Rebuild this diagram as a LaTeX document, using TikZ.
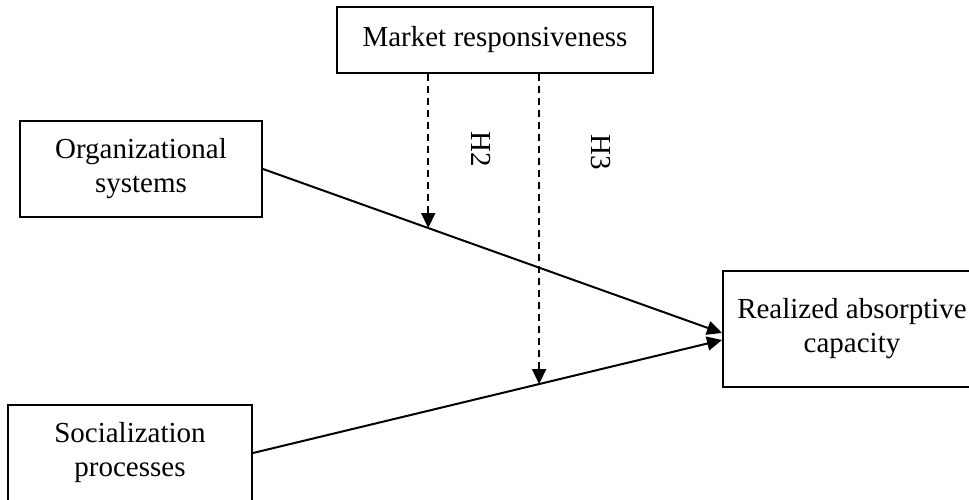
\documentclass[tikz,border=0pt]{standalone}
\usepackage{fontspec}
\setmainfont{Liberation Serif}
\usetikzlibrary{arrows.meta}

\begin{document}
\begin{tikzpicture}[x=1pt,y=-1pt,
        factor/.style={draw,line width=2pt,align=center,inner sep=0pt,
            font=\fontsize{29}{34}\selectfont},
        effect/.style={line width=2pt,-{Triangle[length=15pt,width=14pt]}},
        moderate/.style={effect,line width=1.8pt,dash pattern=on 7pt off 5pt},
        hyp/.style={rotate=-90,inner sep=0pt,font=\fontsize{29}{34}\selectfont}]
        \useasboundingbox (0,0) rectangle (969,500);
        \clip (0,0) rectangle (969,500);

        % 1. moderator
        \node[factor,minimum width=316pt,minimum height=66pt] (mkt) at (495,40) {Market responsiveness};

        % 2. antecedents
        \node[factor,minimum width=242pt,minimum height=96pt] (org) at (141,169) {Organizational\\systems};
        \node[factor,minimum width=244pt,minimum height=96pt] (soc) at (130,453) {Socialization\\processes};

        % 3. outcome
        \node[factor,minimum width=258pt,minimum height=116pt] (rac) at (852,329) {Realized absorptive\\capacity};

        % 4. direct effects
        \draw[effect] (org.east) -- coordinate[pos=0.36] (h2) ([yshift=-4pt]rac.west);
        \draw[effect] (soc.east) -- coordinate[pos=0.61] (h3) ([yshift=-11pt]rac.west);

        % 5. moderating effects
        \draw[moderate] (h2 |- mkt.south) -- (h2);
        \draw[moderate] (h3 |- mkt.south) -- (h3);
        \node[hyp] (h2lab) at (481,149) {H2};
        \node[hyp] (h3lab) at (601,152) {H3};
    \end{tikzpicture}
\end{document}
